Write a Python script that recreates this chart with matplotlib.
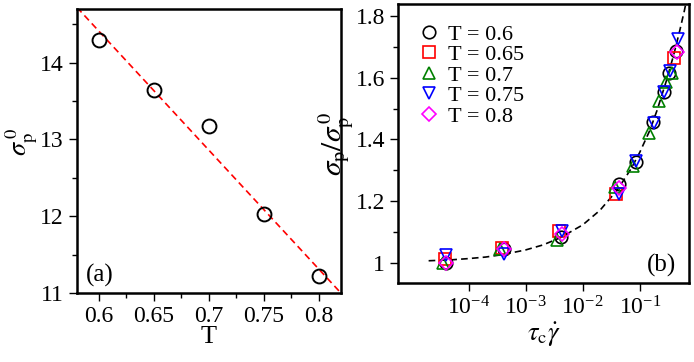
import matplotlib
matplotlib.use("Agg")
import matplotlib.pyplot as plt
from matplotlib.ticker import MultipleLocator, FuncFormatter

plt.rcParams['font.family'] = ['Liberation Serif', 'DejaVu Serif']
plt.rcParams['mathtext.fontset'] = 'stix'
plt.rcParams['font.size'] = 16

# panel (a)
T_vals = [0.6, 0.65, 0.7, 0.75, 0.8]
sigma0 = [14.3, 13.65, 13.17, 12.03, 11.22]
fit_T = [0.58, 0.82]
fit_sigma = [14.72, 11.0]

# panel (b)
x06 = [4.1e-5, 4.1e-4, 4.2e-3, 4.3e-2, 0.085, 0.167, 0.267, 0.33, 0.43]
y06 = [1.0, 1.045, 1.085, 1.255, 1.328, 1.457, 1.552, 1.614, 1.686]
x065 = [3.8e-5, 3.9e-4, 3.8e-3, 3.8e-2, 0.40]
y065 = [1.015, 1.048, 1.103, 1.225, 1.662]
x07 = [3.5e-5, 3.6e-4, 3.6e-3, 3.6e-2, 0.075, 0.145, 0.22, 0.29, 0.36]
y07 = [1.0, 1.045, 1.075, 1.245, 1.315, 1.42, 1.525, 1.585, 1.615]
x075 = [4.1e-5, 4.2e-4, 4.3e-3, 4.3e-2, 0.087, 0.175, 0.26, 0.34, 0.46]
y075 = [1.025, 1.03, 1.105, 1.225, 1.33, 1.452, 1.555, 1.62, 1.725]
x08 = [4.1e-5, 4.1e-4, 4.3e-3, 4.3e-2, 0.44]
y08 = [1.0, 1.045, 1.095, 1.242, 1.683]

curve_x = [2e-5, 5e-5, 1e-4, 2e-4, 4e-4, 1e-3, 2e-3, 4e-3, 1e-2, 2e-2,
           4e-2, 7e-2, 0.1, 0.15, 0.2, 0.3, 0.4, 0.5, 0.6, 0.7]
curve_y = [1.008, 1.011, 1.015, 1.020, 1.028, 1.043, 1.059, 1.082, 1.124, 1.171,
           1.236, 1.305, 1.359, 1.430, 1.494, 1.597, 1.680, 1.752, 1.815, 1.875]

series = [
    (x06, y06, 'o', 'black', 'T = 0.6'),
    (x065, y065, 's', 'red', 'T = 0.65'),
    (x07, y07, '^', 'green', 'T = 0.7'),
    (x075, y075, 'v', 'blue', 'T = 0.75'),
    (x08, y08, 'D', 'magenta', 'T = 0.8'),
]

fig = plt.figure(figsize=(6.94, 3.62), dpi=100)
fmt = FuncFormatter(lambda v, p: '%g' % v)

ax1 = fig.add_axes([0.111, 0.191, 0.380, 0.784])
ax1.plot(fit_T, fit_sigma, '--', color='red', lw=1.2, dashes=(4, 2.5))
ax1.plot(T_vals, sigma0, 'o', mfc='none', mec='black', ms=10, mew=1.4)
ax1.set_xlim(0.58, 0.82)
ax1.set_ylim(11, 14.7)
ax1.xaxis.set_major_locator(MultipleLocator(0.05))
ax1.xaxis.set_minor_locator(MultipleLocator(0.025))
ax1.yaxis.set_major_locator(MultipleLocator(1))
ax1.yaxis.set_minor_locator(MultipleLocator(0.5))
ax1.xaxis.set_major_formatter(fmt)
ax1.yaxis.set_major_formatter(fmt)
ax1.set_xlabel('T', fontsize=19, labelpad=-1)
ax1.set_ylabel(r'$\sigma_{\mathrm{p}}^{\,0}$', fontsize=19)
ax1.yaxis.set_label_coords(-0.14, 0.53)
ax1.text(0.035, 0.04, '(a)', transform=ax1.transAxes, fontsize=18)

ax2 = fig.add_axes([0.574, 0.219, 0.419, 0.770])
ax2.plot(curve_x, curve_y, '--', color='black', lw=1.2, dashes=(4, 2.5))
for xs, ys, m, c, lab in series:
    ax2.plot(xs, ys, m, mfc='none', mec=c, ms=9 if m != 'D' else 7.5, mew=1.2,
             label=lab, linestyle='none')
ax2.set_xscale('log')
ax2.set_xlim(5.9e-6, 0.73)
ax2.set_ylim(0.937, 1.838)
ax2.yaxis.set_major_locator(MultipleLocator(0.2))
ax2.yaxis.set_minor_locator(MultipleLocator(0.1))
ax2.yaxis.set_major_formatter(fmt)
ax2.set_xticks([1e-4, 1e-3, 1e-2, 1e-1])
ax2.set_xlabel(r'$\tau_{\mathrm{c}}\dot{\gamma}$', fontsize=19, labelpad=1)
ax2.set_ylabel(r'$\sigma_{\mathrm{p}}/\sigma_{\mathrm{p}}^{\,0}$', fontsize=21, labelpad=0)
ax2.text(0.855, 0.04, '(b)', transform=ax2.transAxes, fontsize=18)
ax2.legend(loc='upper left', frameon=False, fontsize=16, handletextpad=0.35,
           labelspacing=0.0, borderaxespad=0.5, handlelength=1.0,
           borderpad=0.4)

for ax in (ax1, ax2):
    for s in ax.spines.values():
        s.set_linewidth(1.8)
    ax.tick_params(which='major', direction='out', length=6, width=1.0,
                   labelsize=17)
    ax.tick_params(which='minor', direction='out', length=3.5, width=1.0)

fig.savefig('out.png', dpi=100)
